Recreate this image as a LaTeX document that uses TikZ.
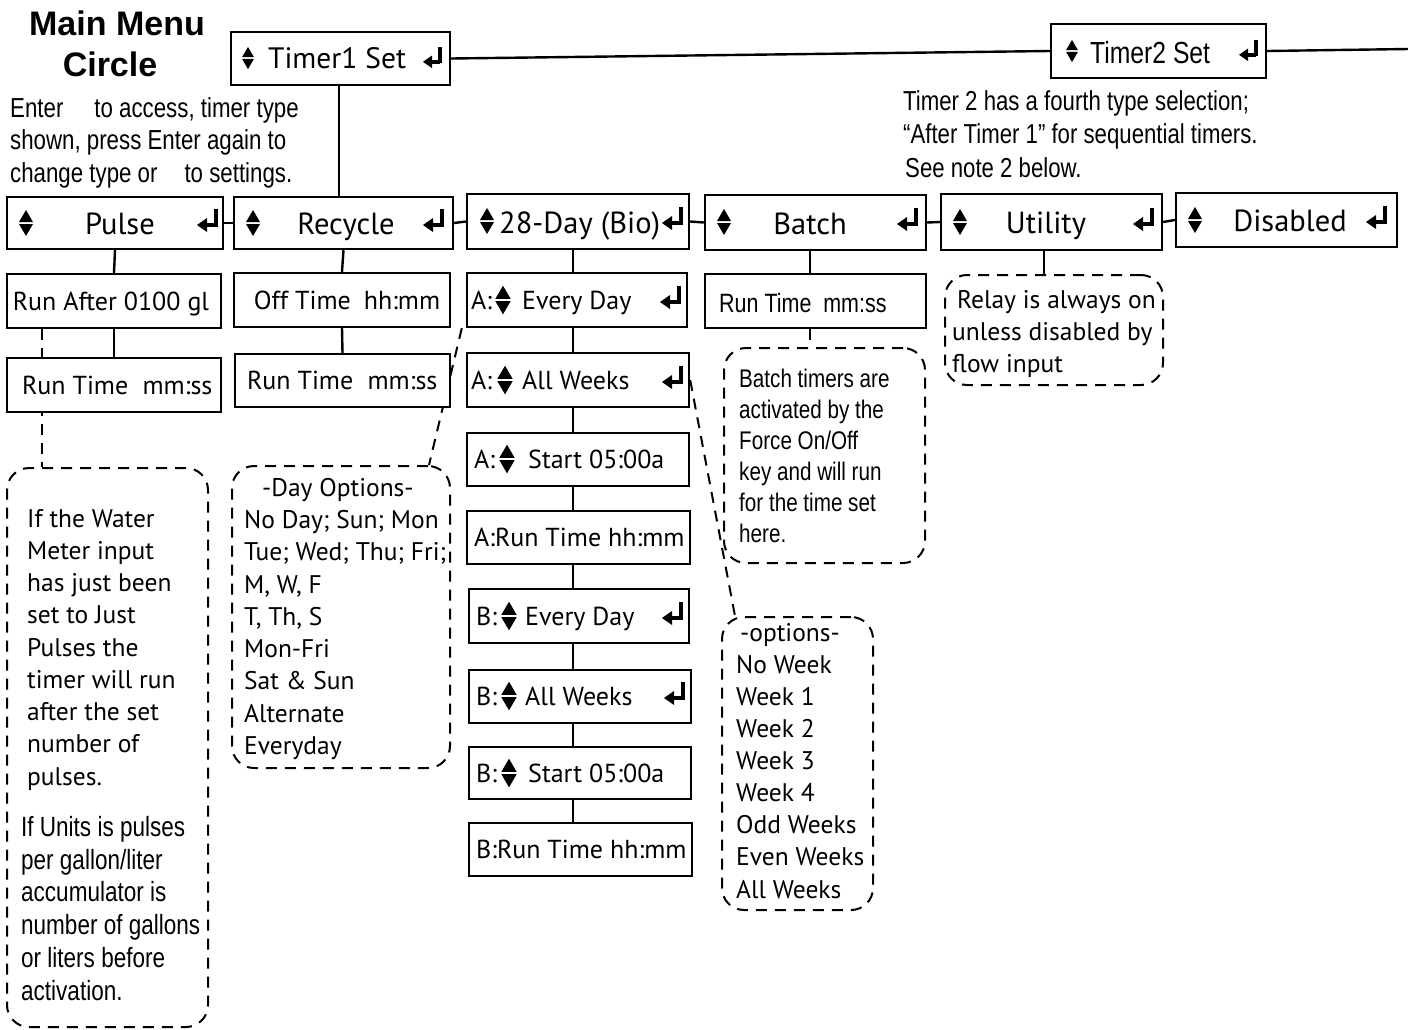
\documentclass[tikz,border=0pt]{standalone}
\usepackage{fontspec}
\setmainfont{PT Sans}
\newfontfamily\arl[FakeStretch=0.81]{Liberation Sans}
\newfontfamily\arlb{Liberation Sans}
\usetikzlibrary{calc,backgrounds}
\newcommand\mybox[5]{\node[box, minimum width={#4-#2}, minimum height={#5-#3}] (#1) at ({(#2+#4)/2},{(#3+#5)/2}) {};}
\newcommand\mynote[5]{\node[note, minimum width={#4-#2}, minimum height={#5-#3}] (#1) at ({(#2+#4)/2},{(#3+#5)/2}) {};}
\begin{document}
\begin{tikzpicture}[x=1pt,y=-1pt,
  box/.style={draw, line width=2.4pt, fill=white, inner sep=0pt},
  note/.style={draw, line width=2pt, dash pattern=on 11pt off 8pt, rounded corners=22pt, inner sep=0pt},
  conn/.style={line width=2.4pt},
  dconn/.style={line width=2pt, dash pattern=on 11pt off 8pt},
  lab/.style={inner sep=0pt, font=\fontsize{26}{30}\selectfont},
  tlab/.style={inner sep=0pt, anchor=base, font=\fontsize{30.5}{34}\selectfont},
  alab/.style={inner sep=0pt, font=\arl\fontsize{30.5}{34}\selectfont},
  ntxt/.style={inner sep=0pt, align=left, anchor=north west, font=\fontsize{25.5}{32.25}\selectfont},
  antxt/.style={inner sep=0pt, align=left, anchor=north west, font=\arl\fontsize{27.5}{33}\selectfont},
  updown/.pic={\fill (-7,-1) -- (7,-1) -- (0,-13) -- cycle; \fill (-7,1) -- (7,1) -- (0,13) -- cycle;},
  enter/.pic={\fill (-10,2) -- (0,-5) -- (0,9) -- cycle; \draw[line width=3.4pt] (-1,2) -- (9,2); \draw[line width=3.4pt] (9,3.7) -- (9,-14);},
]
\useasboundingbox (0,0) rectangle (1408,1029);

% ---- title and notes text
\node[inner sep=0pt, align=center, anchor=north, font=\arlb\bfseries\fontsize{34}{41}\selectfont] (title) at (117,11) {Main Menu\\Circle\hspace*{14pt}};
\node[antxt, font=\arl\fontsize{27.5}{32.5}\selectfont] (lnote) at (10,97) {Enter\hspace*{31pt}to access, timer type\\shown, press Enter again to\\change type or\hspace*{27pt}to settings.};
\node[antxt, font=\arl\fontsize{27.4}{33.5}\selectfont] (t2note) at (903,90) {Timer 2 has a fourth type selection;\\“After Timer 1” for sequential timers.\\\hspace*{2pt}See note 2 below.};

% ---- boxes
\mybox{t1}{231}{32}{450}{85}
\mybox{t2}{1051}{24}{1266}{78}
\mybox{pulse}{7}{197}{223}{249}
\mybox{recycle}{234}{197}{453}{249}
\mybox{bio}{467}{194}{689}{249}
\mybox{batch}{705}{195}{926}{250}
\mybox{utility}{941}{194}{1162}{250}
\mybox{disabled}{1176}{193}{1397}{247}
\mybox{runafter}{7}{274}{221}{328}
\mybox{offtime}{234}{273}{450}{327}
\mybox{aevery}{467}{273}{687}{327}
\mybox{bruntime}{705}{274}{926}{328}
\mybox{pruntime}{7}{358}{221}{412}
\mybox{rruntime}{235}{354}{450}{407}
\mybox{aweeks}{467}{353}{689}{407}
\mybox{astart}{467}{433}{689}{486}
\mybox{arun}{467}{511}{690}{564}
\mybox{bevery}{469}{589}{689}{643}
\mybox{bweeks}{469}{670}{691}{723}
\mybox{bstart}{469}{747}{691}{799}
\mybox{brun}{469}{823}{692}{876}

% ---- dashed notes
\mynote{pnote}{7}{468}{208}{1027}
\mynote{dnote}{232}{466}{450}{768}
\mynote{bnote}{724}{348}{925}{563}
\mynote{onote}{722}{617}{873}{910}
\mynote{rnote}{945}{275}{1163}{385}

% ---- box labels
\node[lab, anchor=base west, font=\fontsize{29.5}{32}\selectfont] (t1l) at (268,68) {Timer1 Set};
\node[alab, anchor=base west] (t2l) at (1090,63) {Timer2 Set};
\node[tlab] (pl) at (120,234) {Pulse};
\node[tlab] (rl) at (346,234) {Recycle};
\node[tlab, anchor=base west] (bl) at (499,233) {28-Day (Bio)};
\node[tlab] (bal) at (810,234) {Batch};
\node[tlab] (ul) at (1046,233) {Utility};
\node[tlab] (dl) at (1290,231) {Disabled};
\node[lab, anchor=base] (ral) at (111,310) {Run After 0100 gl};
\node[lab, anchor=base] (otl) at (347,309) {Off Time\hspace{0.5em}hh:mm};
\node[lab, anchor=base west] (a1a) at (471,309) {A:};
\node[lab, anchor=base west] (a1b) at (522,309) {Every Day};
\node[alab, anchor=base west, font=\arl\fontsize{26.5}{30}\selectfont] (brl) at (719,312) {Run Time\hspace{0.45em}mm:ss};
\node[lab, anchor=base west] (prl) at (22,394) {Run Time\hspace{0.55em}mm:ss};
\node[lab, anchor=base west] (rrl) at (247,389) {Run Time\hspace{0.55em}mm:ss};
\node[lab, anchor=base west] (a2a) at (471,389) {A:};
\node[lab, anchor=base west] (a2b) at (522,389) {All Weeks};
\node[lab, anchor=base west] (a3a) at (474,468) {A:};
\node[lab, anchor=base west] (a3b) at (528,468) {Start 05:00a};
\node[lab, anchor=base west] (a4) at (474,546) {A:Run Time hh:mm};
\node[lab, anchor=base west] (b1a) at (476,625) {B:};
\node[lab, anchor=base west] (b1b) at (525,625) {Every Day};
\node[lab, anchor=base west] (b2a) at (476,705) {B:};
\node[lab, anchor=base west] (b2b) at (525,705) {All Weeks};
\node[lab, anchor=base west] (b3a) at (476,782) {B:};
\node[lab, anchor=base west] (b3b) at (528,782) {Start 05:00a};
\node[lab, anchor=base west] (b4) at (476,858) {B:Run Time hh:mm};

% ---- note texts
\node[ntxt] (pn1) at (27,509) {If the Water\\Meter input\\has just been\\set to Just\\Pulses the\\timer will run\\after the set\\number of\\pulses.};
\node[antxt, font=\arl\fontsize{27.8}{32.8}\selectfont] (pn2) at (21,816) {If Units is pulses\\per gallon/liter\\accumulator is\\number of gallons\\or liters before\\activation.};
\node[ntxt] (dn) at (244,478) {\hspace*{18pt}-Day Options-\\No Day; Sun; Mon\\Tue; Wed; Thu; Fri;\\M, W, F\\T, Th, S\\Mon-Fri\\Sat \& Sun\\Alternate\\Everyday};
\node[ntxt, font=\fontsize{25.5}{32.1}\selectfont] (on) at (736,623) {\hspace*{4pt}-options-\\No Week\\Week 1\\Week 2\\Week 3\\Week 4\\Odd Weeks\\Even Weeks\\All Weeks};
\node[ntxt] (rn) at (952,290) {\hspace*{5pt}Relay is always on\\unless disabled by\\flow input};
\node[antxt, font=\arl\fontsize{25.5}{31}\selectfont] (bn) at (739,369) {Batch timers are\\activated by the\\Force On/Off\\key and will run\\for the time set\\here.};

% ---- icons
\foreach \p in {(248,58),(1072,51)}
  \pic[scale=0.85] at \p {updown};
\foreach \p in {(26,223),(253,223),(487,221),(724,222),(960,222),(1195,220)}
  \pic at \p {updown};
\foreach \p in {(503,300),(505,380),(507,459),(509,616),(509,696),(509,773)}
  \pic[scale=1.1] at \p {updown};
\foreach \p in {(432,60),(1248,53)}
  \pic[scale=0.9] at \p {enter};
\foreach \p in {(207,223),(433,223),(672,221),(907,222),(1143,222),(1376,220),(670,300),(672,380),(672,616),(674,696)}
  \pic at \p {enter};

% ---- solid connectors
\coordinate (t2out) at (1408,49);
\coordinate (colA) at (573,0);
\coordinate (colB) at (810,0);
\coordinate (colT) at (339,0);
\coordinate (colU) at (1044,0);
\draw[conn] (t1.east) -- (t2.west);
\draw[conn] (t2.east) -- (t2out);
\draw[conn] (t1.south -| colT) -- (recycle.north -| colT);
\draw[conn] (pulse.east) -- (recycle.west);
\draw[conn] (recycle.east) -- (bio.west);
\draw[conn] (bio.east) -- (batch.west);
\draw[conn] (batch.east) -- (utility.west);
\draw[conn] (utility.east) -- (disabled.west);
\draw[conn] (pulse.south) -- (runafter.north);
\draw[conn] (runafter.south) -- (pruntime.north);
\draw[conn] (recycle.south) -- (offtime.north);
\draw[conn] (offtime.south) -- (rruntime.north);
\draw[conn] (batch.south -| colB) -- (bruntime.north -| colB);
\draw[conn] (utility.south -| colU) -- (rnote.north -| colU);
\foreach \a/\b in {bio/aevery,aevery/aweeks,aweeks/astart,astart/arun,arun/bevery,bevery/bweeks,bweeks/bstart,bstart/brun}
  \draw[conn] (\a.south -| colA) -- (\b.north -| colA);

% ---- dashed connectors (behind boxes)
\begin{pgfonlayer}{background}
\coordinate (colP) at (42,0);
\draw[dconn] (runafter.south -| colP) -- (pnote.north -| colP);
\draw[dconn] ($(aevery.south west)+(-4,0)$) -- ($(dnote.north east)+(-22,0)$);
\draw[dconn] (aweeks.east) -- ($(onote.north west)+(14,0)$);
\draw[dconn] (bruntime.south -| colB) -- (bnote.north -| colB);
\end{pgfonlayer}
\end{tikzpicture}
\end{document}
